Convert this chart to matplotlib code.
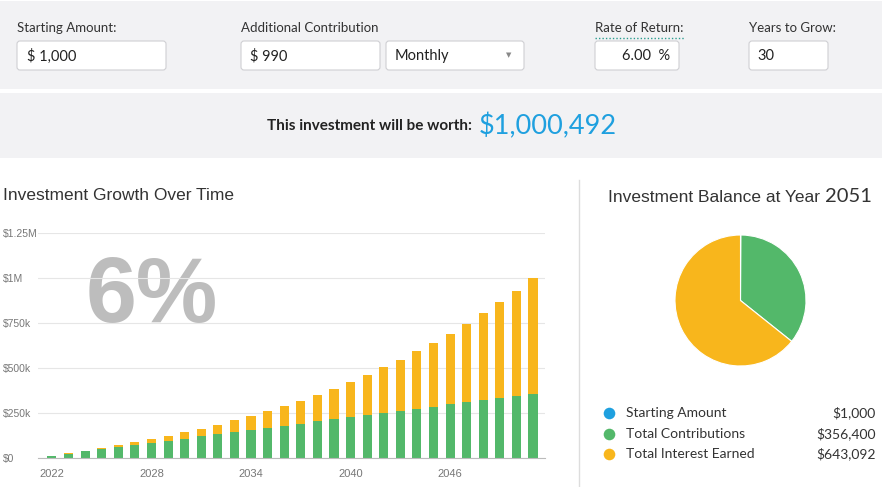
import matplotlib.pyplot as plt
from matplotlib.patches import FancyBboxPatch, Rectangle

# values
years = list(range(2022, 2052))
principal = [13, 25, 37, 49, 60, 72, 84, 96, 108, 120, 132, 144, 155, 167, 179,
             191, 203, 215, 227, 239, 251, 262, 274, 286, 298, 310, 322, 334, 346, 357.4]
totals = [13.4, 26, 41, 55, 71, 88, 105, 123, 143, 162, 184, 209, 233, 260, 287,
          316, 348, 383, 421, 461, 503, 546, 592, 640, 691, 746, 803, 865, 930, 1000.492]
principal = [p * 1000 for p in principal]
totals = [t * 1000 for t in totals]
interest = [t - p for t, p in zip(totals, principal)]

pie_labels = ["Starting Amount", "Total Contributions", "Total Interest Earned"]
pie_values = [1000, 356400, 643092]
final_value = 1000492

ytick_vals = [0, 250000, 500000, 750000, 1000000, 1250000]
ytick_labels = ["$0", "$250k", "$500k", "$750k", "$1M", "$1.25M"]
xtick_years = [2022, 2028, 2034, 2040, 2046]

BLUE = "#1fa0df"
GREEN = "#53b86a"
ORANGE = "#f8b61c"
PANEL = "#f2f2f4"
UI = "Lato"
CHART = "Liberation Sans"

fig = plt.figure(figsize=(8.82, 4.87), dpi=100)
fig.patch.set_facecolor("white")

# background canvas in pixel coords
bg = fig.add_axes([0, 0, 1, 1])
bg.set_xlim(0, 882)
bg.set_ylim(487, 0)
bg.axis("off")

bg.add_patch(Rectangle((0, 1), 882, 88, color=PANEL, lw=0))
bg.add_patch(Rectangle((0, 93), 882, 65, color=PANEL, lw=0))


def box(x, w, y=41, h=29):
    bg.add_patch(FancyBboxPatch((x, y), w, h, boxstyle="round,pad=0,rounding_size=3",
                                facecolor="white", edgecolor="#cfcfd3", lw=0.8))


def label(x, s):
    bg.text(x, 28, s, fontsize=9.5, family=UI, color="#333333", va="center")


label(17, "Starting Amount:")
box(17, 149)
bg.text(27, 56, "$ 1,000", fontsize=10.5, family=UI, color="#222222", va="center")

label(241, "Additional Contribution")
box(241, 139)
bg.text(250, 56, "$ 990", fontsize=10.5, family=UI, color="#222222", va="center")
box(386, 138)
bg.text(395, 56, "Monthly", fontsize=10.5, family=UI, color="#222222", va="center")
bg.text(509, 55, "\u25bc", fontsize=5, family="DejaVu Sans", color="#888888",
        va="center", ha="center")

label(595, "Rate of Return:")
bg.plot([595, 685], [37.5, 37.5], linestyle=(0, (1, 1.5)), color="#2a9d8f", lw=1)
box(595, 84)
bg.text(670, 56, "6.00  %", fontsize=10.5, family=UI, color="#222222", va="center", ha="right")

label(749, "Years to Grow:")
box(749, 79)
bg.text(757, 56, "30", fontsize=10.5, family=UI, color="#222222", va="center")

bg.text(472, 126, "This investment will be worth:", fontsize=11, family=UI,
        fontweight="bold", color="#222222", va="center", ha="right")
bg.text(479, 126, f"${final_value:,}", fontsize=19.5, family=UI, color=BLUE, va="center")

bg.text(3, 196, "Investment Growth Over Time", fontsize=12.5, family=CHART,
        color="#333333", va="center")
bg.text(608, 197, "Investment Balance at Year", fontsize=12.5, family=CHART,
        color="#333333", va="center")
bg.text(825, 197, "2051", fontsize=14.5, family=UI, color="#333333", va="center")

bg.plot([579, 579], [180, 487], color="#dddddd", lw=1)

# legend rows
for i, (name, val) in enumerate(zip(pie_labels, pie_values)):
    yy = 413 + i * 20.5
    bg.scatter([609], [yy], s=70, color=[BLUE, GREEN, ORANGE][i], lw=0)
    bg.text(626, yy, name, fontsize=10, family=UI, color="#333333", va="center")
    bg.text(876, yy, f"${val:,}", fontsize=10, family=UI, color="#333333",
            va="center", ha="right")

# bar chart
ax = fig.add_axes([38 / 882, (487 - 458) / 487, (545 - 38) / 882, (458 - 233) / 487])
ax.patch.set_alpha(0)
ax.text(0.225, 0.71, "6%", transform=ax.transAxes, fontsize=66, family=CHART,
        fontweight="bold", color="#bdbdbd", ha="center", va="center", zorder=0)
ax.bar(years, principal, width=0.55, color=GREEN, zorder=2)
ax.bar(years, interest, bottom=principal, width=0.55, color=ORANGE, zorder=2)
ax.set_xlim(2021.16, 2051.72)
ax.set_ylim(0, 1250000)
ax.set_yticks(ytick_vals)
ax.set_yticklabels(ytick_labels, ha="left", fontsize=7.5, family=CHART, color="#777777")
ax.tick_params(axis="y", length=0, pad=25)
ax.set_xticks(xtick_years)
ax.set_xticklabels([str(y) for y in xtick_years], fontsize=8, family=CHART, color="#777777")
ax.tick_params(axis="x", length=0, pad=8)
ax.grid(axis="y", color="#e6e6e6", lw=0.8, zorder=1)
ax.set_axisbelow(True)
for s in ["top", "right", "left"]:
    ax.spines[s].set_visible(False)
ax.spines["bottom"].set_color("#bbbbbb")

# pie chart
pax = fig.add_axes([675 / 882, (487 - 366) / 487, 131 / 882, 131 / 487])
pax.pie(pie_values, colors=[BLUE, GREEN, ORANGE], startangle=90, counterclock=False,
        wedgeprops=dict(edgecolor="white", linewidth=0.8))
pax.set_xlim(-1.0, 1.0)
pax.set_ylim(-1.0, 1.0)
pax.set_aspect("equal")

fig.savefig("out.png", dpi=100)
